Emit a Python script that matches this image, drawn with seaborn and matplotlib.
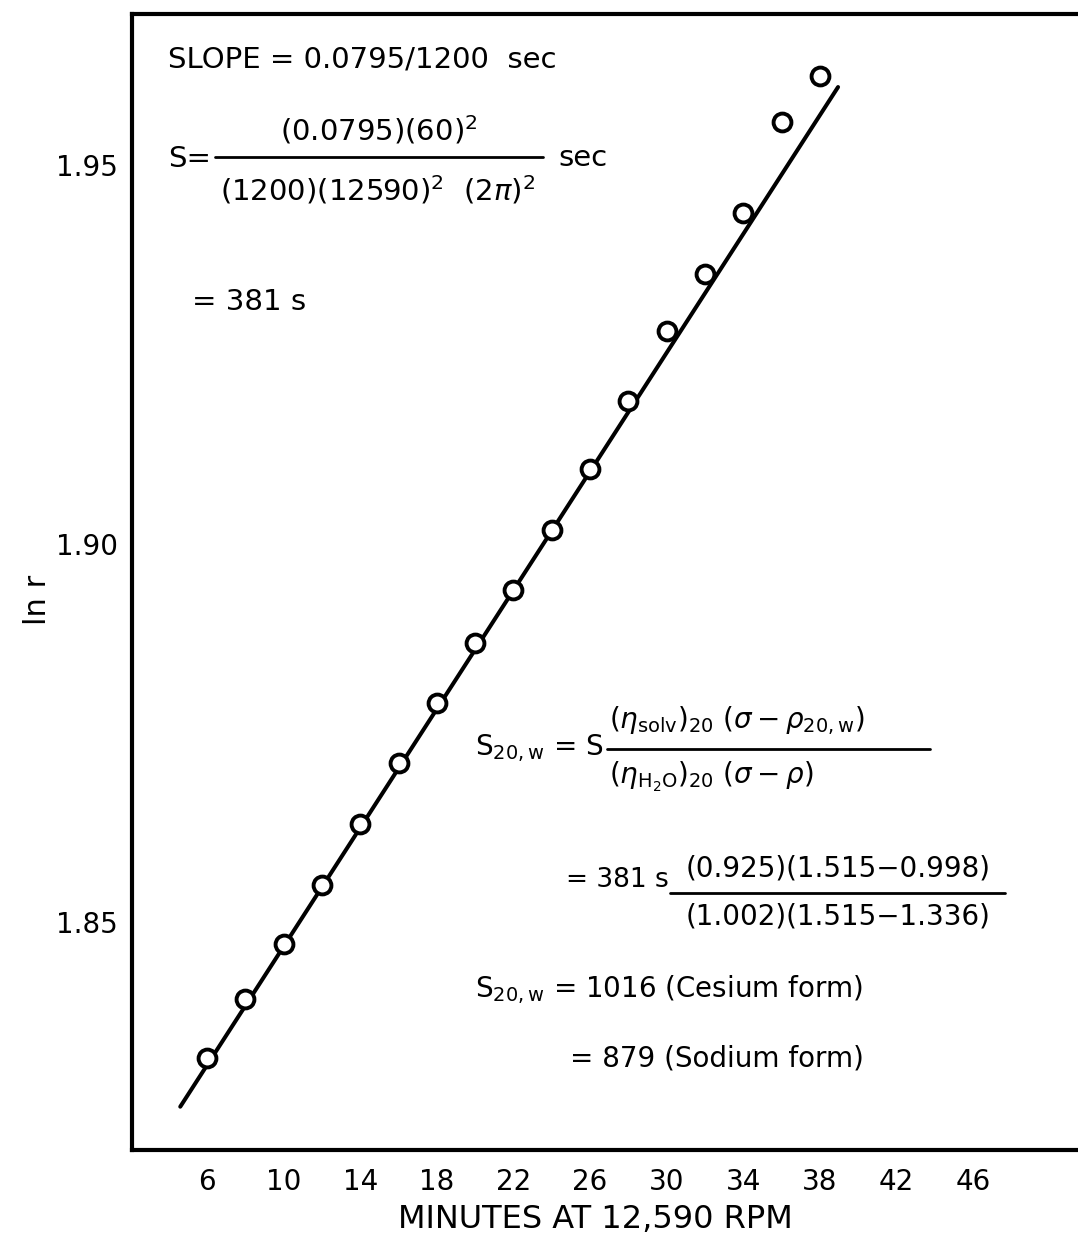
import matplotlib
matplotlib.use("Agg")
import matplotlib.pyplot as plt
import seaborn as sns
import numpy as np
from matplotlib.lines import Line2D

# ---- data ----
minutes = [6, 8, 10, 12, 14, 16, 18, 20, 22, 24, 26, 28, 30, 32, 34, 36, 38]
ln_r = [1.8320, 1.8398, 1.8471, 1.8549, 1.8629, 1.8710, 1.8789, 1.8869,
        1.8938, 1.9018, 1.9098, 1.9188, 1.9281, 1.9356, 1.9437, 1.9557, 1.9618]
fit_x = [4.6, 38.95]
fit_y = [1.8256, 1.9603]
x_ticks = [6, 10, 14, 18, 22, 26, 30, 34, 38, 42, 46]
y_ticks = [1.85, 1.90, 1.95]
y_ticklabels = ["1.85", "1.90", "1.95"]

W, H = 1078, 1246
sns.set_style("white")
plt.rcParams["font.family"] = ["DejaVu Sans"]
plt.rcParams["mathtext.fontset"] = "dejavusans"
plt.rcParams["text.color"] = "black"
plt.rcParams["axes.labelcolor"] = "black"

fig = plt.figure(figsize=(W / 100, H / 100), dpi=100)
# axes extend a little past the right edge of the figure (no right border)
ext = 30
ax = fig.add_axes([132 / W, 1 - 1150 / H, (W + ext - 132) / W, (1150 - 14) / H])

sns.lineplot(x=fit_x, y=fit_y, ax=ax, color="black", lw=2.9,
             solid_capstyle="round", zorder=2)
sns.scatterplot(x=minutes, y=ln_r, ax=ax, marker="o", s=165,
                facecolor="white", edgecolor="black", linewidth=2.8, zorder=3)

ax.set_xlim(2.08, 51.48 + ext / 19.15)
ax.set_ylim(1.81988, 1.96995)
ax.set_xticks(x_ticks)
ax.set_xticklabels([str(t) for t in x_ticks])
ax.set_yticks(y_ticks)
ax.set_yticklabels(y_ticklabels)
ax.tick_params(axis="x", direction="in", length=18, width=2.2, pad=13,
               labelsize=20, colors="black")
ax.tick_params(axis="y", direction="out", length=8, width=1.8, pad=2,
               labelsize=20, colors="black")
for side in ["left", "top", "bottom"]:
    ax.spines[side].set_visible(True)
    ax.spines[side].set_linewidth(3)
    ax.spines[side].set_color("black")
ax.spines["right"].set_visible(False)
ax.set_xlabel("")
ax.set_ylabel("")
fig.text(595 / W, 1 - 1220 / H, "MINUTES AT 12,590 RPM", fontsize=23,
         ha="center", va="center")
fig.text(37 / W, 1 - 600 / H, "ln r", rotation=90, fontsize=22,
         ha="center", va="center")


def px(x, y):
    return x / W, 1 - y / H


def txt(x, y, s, size=20, ha="left"):
    fig.text(*px(x, y), s, fontsize=size, ha=ha, va="baseline")


def bar(x0, x1, y):
    fig.add_artist(Line2D([x0 / W, x1 / W], [1 - y / H, 1 - y / H],
                          transform=fig.transFigure, color="black", lw=2))


# top block
txt(168, 68, "SLOPE = 0.0795/1200  sec", size=21)
txt(168, 167, "S=", size=21)
bar(215, 543, 157)
txt(379, 140, r"(0.0795)(60)$^2$", size=21, ha="center")
txt(378, 200, r"(1200)(12590)$^2$  (2$\pi$)$^2$", size=21, ha="center")
txt(558, 166, "sec", size=21)
txt(192, 310, "= 381 s", size=21)

# lower block
txt(475, 755, r"S$_{20,\mathrm{w}}$ = S", size=20)
bar(607, 930, 749)
txt(609, 728, r"($\eta_{\mathrm{solv}}$)$_{20}$ ($\sigma - \rho_{20,\mathrm{w}}$)", size=20)
txt(609, 784, r"($\eta_{\mathrm{H_2O}}$)$_{20}$ ($\sigma - \rho$)", size=20)

txt(566, 887, "= 381 s", size=19)
bar(670, 1005, 893)
txt(838, 877, "(0.925)(1.515\u22120.998)", size=20, ha="center")
txt(838, 925, "(1.002)(1.515\u22121.336)", size=20, ha="center")

txt(475, 997, r"S$_{20,\mathrm{w}}$ = 1016 (Cesium form)", size=20)
txt(570, 1067, "= 879 (Sodium form)", size=20)

fig.savefig("out.png", dpi=100, facecolor="white")
